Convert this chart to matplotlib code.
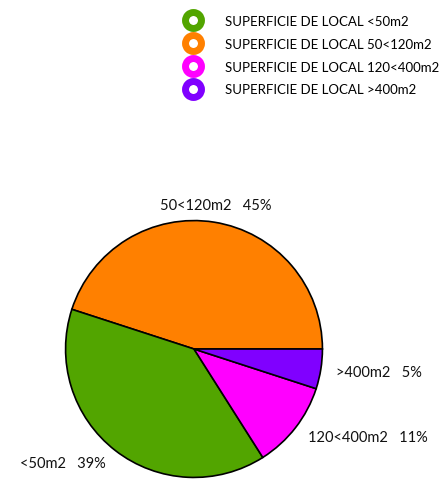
import matplotlib
matplotlib.use("Agg")
import matplotlib.pyplot as plt
from matplotlib.lines import Line2D

# Shop floor-area classes and their shares (%)
categories = ["<50m2", "50<120m2", "120<400m2", ">400m2"]
shares = [39, 45, 11, 5]
colors = ["#52a500", "#ff8000", "#ff00ff", "#8000ff"]
legend_labels = ["SUPERFICIE DE LOCAL <50m2", "SUPERFICIE DE LOCAL 50<120m2",
                 "SUPERFICIE DE LOCAL 120<400m2", "SUPERFICIE DE LOCAL >400m2"]

# Pie is drawn counter-clockwise from 3 o'clock: 50<120, <50, 120<400, >400
pie_order = [1, 0, 2, 3]

plt.rcParams["font.family"] = ["Lato", "DejaVu Sans"]

W, H = 448, 485
fig = plt.figure(figsize=(W / 100, H / 100), dpi=100)

cx, cy, r = 194, 350, 131
ax = fig.add_axes([(cx - r) / W, (H - cy - r) / H, 2 * r / W, 2 * r / H])

vals = [shares[i] for i in pie_order]
cols = [colors[i] for i in pie_order]
labs = [f"{categories[i]}   {shares[i]}%" for i in pie_order]

wedges, texts = ax.pie(vals, colors=cols, labels=labs, startangle=0,
                       counterclock=True, labeldistance=1.12,
                       wedgeprops=dict(edgecolor="black", linewidth=1.2),
                       textprops=dict(fontsize=10.5, color="#111111"))
# the top label sits centred above the pie
top = texts[0]
top.set_ha("center")
top.set_position((0.17, 1.12))
ax.set_xlim(-1.02, 1.02)
ax.set_ylim(-1.02, 1.02)
ax.set_aspect("equal")

# Ring-shaped legend markers
handles = [Line2D([], [], linestyle="none", marker="o", markersize=11.5,
                  markerfacecolor="white", markeredgecolor=c, markeredgewidth=5.0)
           for c in colors]
fig.legend(handles, legend_labels, loc="upper left",
           bbox_to_anchor=(180 / W, 1 - 16 / H), frameon=False,
           fontsize=9.5, handletextpad=1.4, labelspacing=0.82,
           handlelength=2.0, borderaxespad=0, borderpad=0)

fig.savefig("out.png", dpi=100, facecolor="white")
